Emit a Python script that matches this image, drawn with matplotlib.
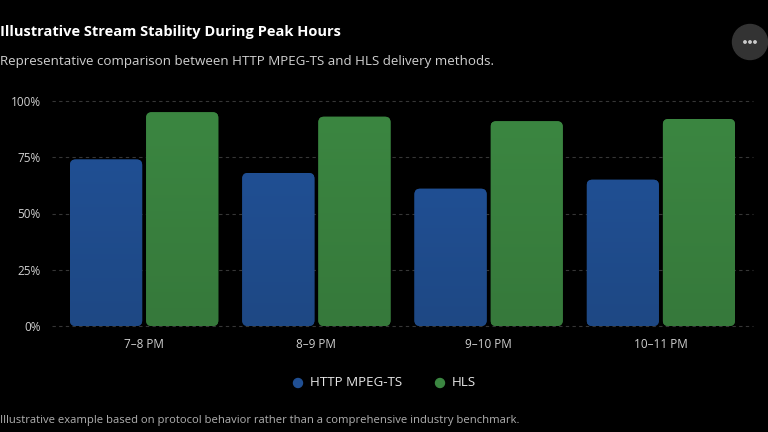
import matplotlib
matplotlib.use("Agg")
import matplotlib.pyplot as plt
import numpy as np
from matplotlib.patches import FancyBboxPatch, Circle
from matplotlib.colors import LinearSegmentedColormap

categories = ["7–8 PM", "8–9 PM", "9–10 PM", "10–11 PM"]
mpeg_ts = [74, 68, 61, 65]
hls = [95, 93, 91, 92]
series_names = ["HTTP MPEG-TS", "HLS"]
y_ticks = [0, 25, 50, 75, 100]
y_tick_labels = ["0%", "25%", "50%", "75%", "100%"]

title = "Illustrative Stream Stability During Peak Hours"
subtitle = "Representative comparison between HTTP MPEG-TS and HLS delivery methods."
footer = "Illustrative example based on protocol behavior rather than a comprehensive industry benchmark."

plt.rcParams['font.family'] = ['Open Sans', 'DejaVu Sans']

W, H = 768, 432
fig = plt.figure(figsize=(W / 100, H / 100), dpi=100, facecolor="black")
ax_l, ax_r, ax_t, ax_b = 52, 753, 101, 326
ax = fig.add_axes([ax_l / W, (H - ax_b) / H, (ax_r - ax_l) / W, (ax_b - ax_t) / H])
ax.set_facecolor("black")
xlim = (-0.535, 3.535)
ax.set_xlim(*xlim)
ax.set_ylim(0, 100)

x = np.arange(len(categories))
width = 0.419
off = 0.221
grads = [("#204f93", "#1e4884"), ("#3b8641", "#36793b")]

px_per_x = (ax_r - ax_l) / (xlim[1] - xlim[0])
px_per_y = (ax_b - ax_t) / 100.0
r_px = 5.5
rx = r_px / px_per_x
aspect = px_per_x / px_per_y

for vals, sign, (ctop, cbot) in [(mpeg_ts, -1, grads[0]), (hls, 1, grads[1])]:
    bars = ax.bar(x + sign * off, vals, width=width, color=cbot)
    for b in bars:
        b.set_visible(False)
        bx, by = b.get_x(), b.get_y()
        bw, bh = b.get_width(), b.get_height()
        patch = FancyBboxPatch((bx, by), bw, bh,
                               boxstyle=f"round,pad=0,rounding_size={rx}",
                               mutation_aspect=aspect, facecolor=cbot,
                               edgecolor="none", zorder=2)
        ax.add_patch(patch)
        cmap = LinearSegmentedColormap.from_list("g", [cbot, ctop])
        grad = np.linspace(0, 1, 100).reshape(-1, 1)
        im = ax.imshow(grad, cmap=cmap, extent=(bx, bx + bw, by, by + bh),
                       origin="lower", aspect="auto", zorder=3)
        im.set_clip_path(patch)

ax.set_aspect("auto")
ax.set_xlim(*xlim)
ax.set_ylim(0, 100)

for yt in y_ticks:
    ax.axhline(yt, color="#363636", lw=0.8, ls=(0, (3, 3)), zorder=1, clip_on=False)

ax.set_yticks(y_ticks)
ax.set_yticklabels(y_tick_labels, color="#d0d0d0", fontsize=8.5)
ax.set_xticks(x)
ax.set_xticklabels(categories, color="#d0d0d0", fontsize=8.5)
ax.tick_params(length=0, pad=8)
ax.tick_params(axis="x", pad=9)
for s in ax.spines.values():
    s.set_visible(False)

fig.text(0 / W, 1 - 32 / H, title, color="white", fontsize=10.5, fontweight="bold",
         va="center", ha="left")
fig.text(0 / W, 1 - 62 / H, subtitle, color="#d0d0d0", fontsize=9.6,
         va="center", ha="left")
fig.text(0 / W, 1 - 420 / H, footer, color="#b0b0b0", fontsize=8.1,
         va="center", ha="left")

# overlay axes in pixel coordinates for legend markers and menu button
bax = fig.add_axes([0, 0, 1, 1], facecolor="none")
bax.set_xlim(0, W)
bax.set_ylim(H, 0)
bax.axis("off")

leg_y = 383
for lx, name, col in [(298, series_names[0], grads[0][0]), (440, series_names[1], grads[1][0])]:
    bax.add_patch(Circle((lx, leg_y), 4.5, color=col))
    bax.text(lx + 12, leg_y, name, color="#e6e6e6", fontsize=9.6, va="center", ha="left")

bax.add_patch(Circle((750, 42), 17.5, color="#333333"))
for dx in (-5, 0, 5):
    bax.add_patch(Circle((750 + dx, 42), 1.2, color="#cccccc"))

fig.savefig("out.png", dpi=100, facecolor="black")
